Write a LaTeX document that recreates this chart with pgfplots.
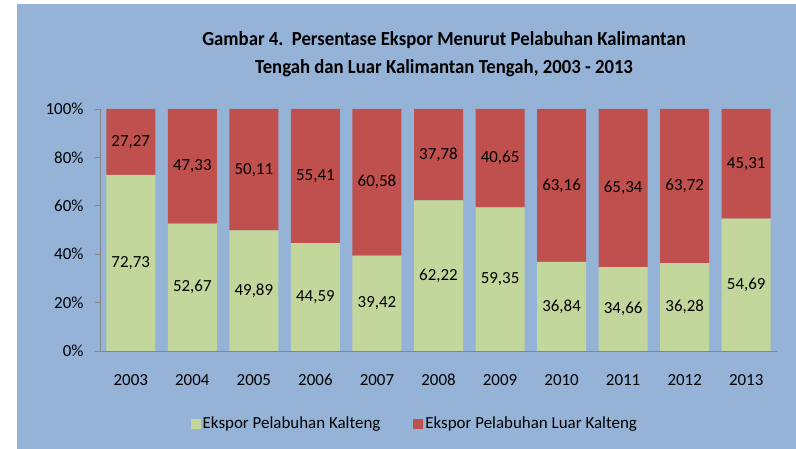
\documentclass[border=0pt]{standalone}
\usepackage{pgfplots}
\usepackage{pgfplotstable}
\pgfplotsset{compat=1.18}
\usepackage{fontspec}
\setmainfont{Carlito}
\definecolor{bgblue}{HTML}{95B3D7}
\definecolor{bargreen}{HTML}{C3D69B}
\definecolor{barred}{HTML}{C0504D}
\definecolor{axgray}{HTML}{868686}
\pgfplotstableread{
x year g r gl rl
0 2003 72.73 27.27 72,73 27,27
1 2004 52.67 47.33 52,67 47,33
2 2005 49.89 50.11 49,89 50,11
3 2006 44.59 55.41 44,59 55,41
4 2007 39.42 60.58 39,42 60,58
5 2008 62.22 37.78 62,22 37,78
6 2009 59.35 40.65 59,35 40,65
7 2010 36.84 63.16 36,84 63,16
8 2011 34.66 65.34 34,66 65,34
9 2012 36.28 63.72 36,28 63,72
10 2013 54.69 45.31 54,69 45,31
}\data
\begin{document}
\begin{tikzpicture}[x=1bp,y=1bp]
\fill[white] (0,0) rectangle (796,449);
\fill[bgblue] (17,0) rectangle (796,445);
\node[font=\bfseries\fontsize{20}{24}\selectfont, align=center] at (444,395) {\scalebox{0.94}[1]{Gambar 4.\ \ Persentase Ekspor Menurut Pelabuhan Kalimantan}\\[4bp]\scalebox{0.94}[1]{Tengah dan Luar Kalimantan Tengah, 2003 - 2013}};
\begin{axis}[
  at={(100bp,98bp)}, anchor=south west,
  scale only axis, width=677bp, height=242bp,
  xmin=-0.5, xmax=10.5, ymin=0, ymax=100,
  ybar stacked, bar width=49bp,
  axis x line*=bottom, axis y line*=left,
  axis line style={axgray, line width=0.8pt, -},
  tick style={axgray, line width=0.8pt},
  xtick={0,1,2,3,4,5,6,7,8,9,10},
  xticklabels={2003,2004,2005,2006,2007,2008,2009,2010,2011,2012,2013},
  x tick style={draw=none},
  extra x ticks={-0.5,0.5,1.5,2.5,3.5,4.5,5.5,6.5,7.5,8.5,9.5,10.5},
  extra x tick labels={},
  extra x tick style={tick style={axgray, line width=0.8pt}, major tick length=5bp, tick align=outside},
  ytick={0,20,40,60,80,100},
  yticklabels={0\%,20\%,40\%,60\%,80\%,100\%},
  tick align=outside, major tick length=5bp,
  ticklabel style={font=\fontsize{17}{20}\selectfont},
  xticklabel style={anchor=base, yshift=-30bp},
  yticklabel style={xshift=-8bp},
  legend style={at={(0.465,-0.255)}, anchor=north, draw=none, fill=none,
    legend columns=2, font=\fontsize{17}{20}\selectfont,
    /tikz/every even column/.append style={column sep=31bp},
    /tikz/every odd column/.append style={inner sep=0pt}},
  legend image code/.code={\fill[#1] (0bp,-5bp) rectangle (10bp,5bp);},
]
\addplot[fill=bargreen, draw=none] table[x=x, y=g] {\data};
\addlegendentry{Ekspor Pelabuhan Kalteng}
\addplot[fill=barred, draw=none] table[x=x, y=r] {\data};
\addlegendentry{Ekspor Pelabuhan Luar Kalteng}
\end{axis}
\begin{axis}[
  at={(100bp,98bp)}, anchor=south west,
  scale only axis, width=677bp, height=242bp,
  xmin=-0.5, xmax=10.5, ymin=0, ymax=100,
  hide axis,
  nodes near coords, point meta=explicit symbolic,
  nodes near coords align=center,
  every node near coord/.append style={font=\fontsize{17}{20}\selectfont, anchor=center},
]
\addplot[only marks, mark=none] table[x=x, y expr=\thisrow{g}/2, meta=gl] {\data};
\addplot[only marks, mark=none] table[x=x, y expr=\thisrow{g}+\thisrow{r}/2, meta=rl] {\data};
\end{axis}
\end{tikzpicture}
\end{document}
